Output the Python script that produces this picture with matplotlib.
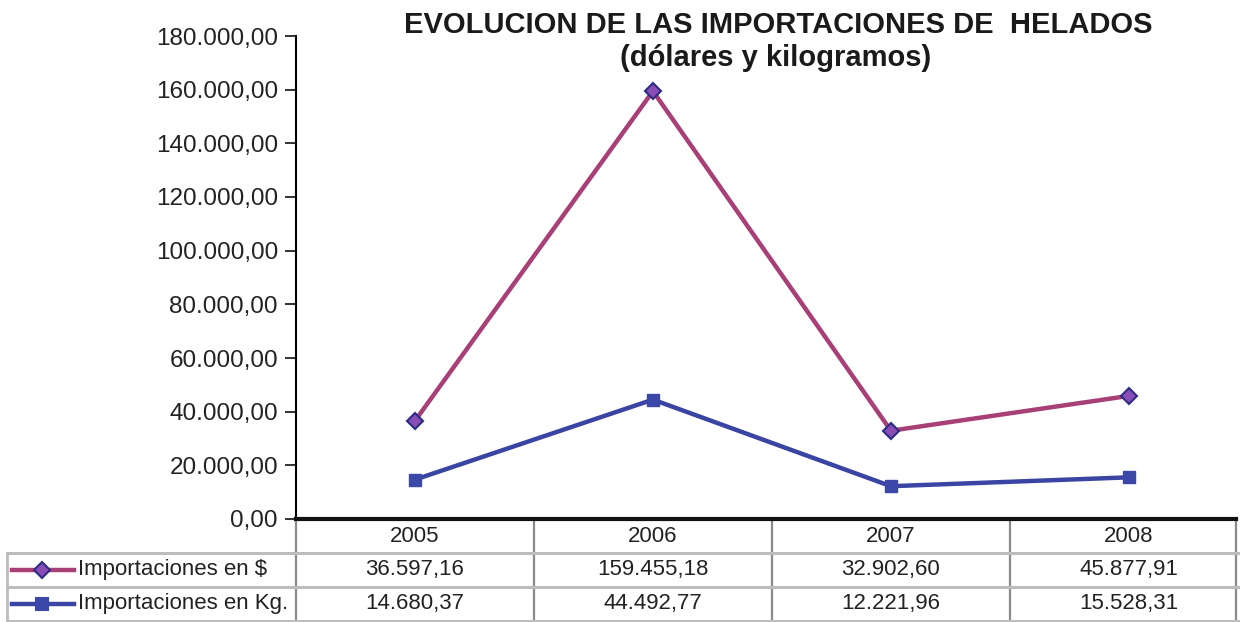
import matplotlib
matplotlib.use("Agg")
import matplotlib.pyplot as plt
from matplotlib.lines import Line2D

# data
years = ["2005", "2006", "2007", "2008"]
importaciones_usd = [36597.16, 159455.18, 32902.60, 45877.91]
importaciones_kg = [14680.37, 44492.77, 12221.96, 15528.31]
series_labels = ["Importaciones en $", "Importaciones en Kg."]
yticks = [0, 20000, 40000, 60000, 80000, 100000, 120000, 140000, 160000, 180000]

W, H = 1240, 622
plt.rcParams['font.family'] = ['Liberation Sans', 'DejaVu Sans']


def es_fmt(v):
    # spanish number format: 12.345,67
    s = f"{v:,.2f}"
    return s.replace(",", "X").replace(".", ",").replace("X", ".")


fig = plt.figure(figsize=(W / 100, H / 100), dpi=100)
ax_left, ax_right, ax_top, ax_bot = 296, 1236, 36, 519
ax = fig.add_axes([ax_left / W, 1 - ax_bot / H, (ax_right - ax_left) / W, (ax_bot - ax_top) / H])

x = list(range(len(years)))
pink = '#A93F77'
blue = '#3A44A2'
ax.plot(x, importaciones_usd, color=pink, lw=3.2, marker='D', markersize=8,
        markerfacecolor='#8A4CB5', markeredgecolor='#2B2C86', markeredgewidth=1.5, zorder=3)
ax.plot(x, importaciones_kg, color=blue, lw=3.2, marker='s', markersize=9,
        markerfacecolor='#3C47AA', markeredgecolor='#3C47AA', zorder=3)

ax.set_xlim(-0.5, 3.45)
ax.set_ylim(0, 180000)
ax.set_yticks(yticks)
ax.set_yticklabels([es_fmt(v) for v in yticks], fontsize=17.5, color='#222222')
ax.tick_params(axis='y', direction='out', length=8, width=1.3, pad=5, colors='#222222')
ax.set_xticks([])
for side in ['top', 'right']:
    ax.spines[side].set_visible(False)
ax.spines['left'].set_linewidth(1.5)
ax.spines['bottom'].set_linewidth(3)
ax.spines['bottom'].set_color('#111111')

fig.text(778 / W, 1 - 25 / H, "EVOLUCION DE LAS IMPORTACIONES DE  HELADOS",
         ha='center', va='center', fontsize=21, fontweight='bold', color='#1a1a1a')
fig.text(776 / W, 1 - 58 / H, "(dólares y kilogramos)",
         ha='center', va='center', fontsize=21, fontweight='bold', color='#1a1a1a')

# data table under the chart
grid_col = '#8a8a8a'
row_y = [553, 587, 621]
table_left = 7
for yy in row_y:
    fig.add_artist(Line2D([table_left / W, 1.0], [1 - yy / H] * 2, color='#bdbdbd', lw=2.2))
fig.add_artist(Line2D([table_left / W] * 2, [1 - 553 / H, 1 - 621 / H], color='#bdbdbd', lw=2))

trans = ax.get_xaxis_transform()
axh = ax_bot - ax_top
for b in [-0.5, 0.5, 1.5, 2.5, 3.45]:
    ax.plot([b, b], [0, -(621 - ax_bot) / axh], transform=trans, color=grid_col,
            lw=1.6, clip_on=False)

hdr_y = -(536 - ax_bot) / axh
r1_y = -(570 - ax_bot) / axh
r2_y = -(604 - ax_bot) / axh
for i, yr in enumerate(years):
    ax.text(i, hdr_y, yr, transform=trans, ha='center', va='center', fontsize=16, color='#222222')
    ax.text(i, r1_y, es_fmt(importaciones_usd[i]), transform=trans, ha='center', va='center',
            fontsize=16, color='#222222')
    ax.text(i, r2_y, es_fmt(importaciones_kg[i]), transform=trans, ha='center', va='center',
            fontsize=16, color='#222222')

# legend keys in row labels
for yy, col, mk, ms, mfc, mec, lab in [
        (570, pink, 'D', 8, '#8A4CB5', '#2B2C86', series_labels[0]),
        (604, blue, 's', 9, '#3C47AA', '#3C47AA', series_labels[1])]:
    fy = 1 - yy / H
    fig.add_artist(Line2D([12 / W, 42 / W, 74 / W], [fy] * 3, color=col, lw=3.2,
                          marker=mk, markersize=ms, markerfacecolor=mfc, markeredgecolor=mec,
                          markeredgewidth=1.5, markevery=[1]))
    fig.text(78 / W, fy, lab, ha='left', va='center', fontsize=16, color='#222222')

fig.savefig("out.png", dpi=100)
